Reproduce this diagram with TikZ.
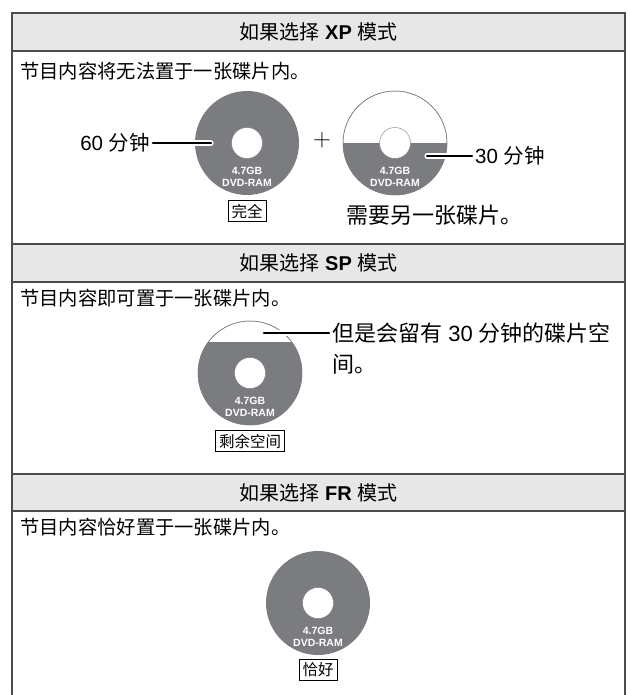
\documentclass[tikz,border=0pt]{standalone}
\usepackage{fontspec}
\setmainfont{Liberation Sans}
\newfontfamily\cjk{Noto Sans CJK SC}
\usetikzlibrary{positioning}
\definecolor{headgray}{RGB}{230,231,230}
\definecolor{discgray}{RGB}{122,124,128}
\definecolor{framegray}{RGB}{75,75,75}
\tikzset{
  frameline/.style={draw=framegray,line width=1.8pt},
  headtext/.style={font=\fontsize{20}{22}\selectfont},
  intro/.style={anchor=west,inner sep=0pt,font=\cjk\fontsize{19.3}{22}\selectfont},
  disc/.style={circle,fill=discgray,minimum size=104pt,inner sep=0pt},
  discring/.style={circle,draw=discgray,line width=0.5pt,minimum size=104pt,inner sep=0pt},
  hole/.style={circle,fill=white,draw=discgray,line width=0.4pt,minimum size=31pt,inner sep=0pt},
  disclabel/.style={text=white,align=center,inner sep=0pt,font=\bfseries\fontsize{10.5}{12.2}\selectfont},
  tag/.style={draw=black,line width=0.8pt,inner xsep=3.5pt,inner ysep=2pt,minimum height=21pt,font=\cjk\fontsize{15.5}{17}\selectfont},
  callout/.style={inner sep=3pt,font=\fontsize{20.5}{24}\selectfont},
  bigcallout/.style={inner sep=3pt,font=\fontsize{22}{26}\selectfont},
  pointer/.style={line width=2.6pt,line cap=round,preaction={draw=white,line width=5.2pt,line cap=round}}
}
\begin{document}
\begin{tikzpicture}[x=1pt,y=-1pt]
\useasboundingbox (0,0) rectangle (629,695);
% header bands
\fill[headgray] (12,13) rectangle (625,51);
\fill[headgray] (12,244) rectangle (625,282);
\fill[headgray] (12,474) rectangle (625,511);
\draw[frameline] (12,695) -- (12,13) -- (625,13) -- (625,695);
\foreach \y in {51,244,282,474,511}
  \draw[frameline] (12,\y) -- (625,\y);
\node[headtext] (hxp) at (318.5,32) {{\cjk 如果选择} \textbf{XP} {\cjk 模式}};
\node[headtext] (hsp) at (318.5,263) {{\cjk 如果选择} \textbf{SP} {\cjk 模式}};
\node[headtext] (hfr) at (318.5,492.5) {{\cjk 如果选择} \textbf{FR} {\cjk 模式}};

% XP mode
\node[intro] (txp) at (20,71) {节目内容将无法置于一张碟片内。};
\node[disc] (d1) at (247,143) {};
\node[hole] (h1) at (d1) {};
\node[disclabel] (l1) at ([yshift=-34pt]d1.center) {4.7GB\\DVD-RAM};
\node[tag,below=5pt of d1] (full) {完全};
\coordinate (e60) at (211,143);
\node[callout,anchor=east] (t60) at (153,143) {60 {\cjk 分钟}};
\draw[pointer] (t60.east) -- (e60);
\node[font=\fontsize{26}{26}\selectfont] (plus) at (322,140) {$+$};
\node[discring] (d2) at (395,143) {};
\begin{scope}
  \clip (d2) circle[radius=52pt];
  \fill[discgray] (340,143) rectangle (450,200);
\end{scope}
\node[discring] at (d2) {};
\node[hole] (h2) at (d2) {};
\node[disclabel] (l2) at ([yshift=-34pt]d2.center) {4.7GB\\DVD-RAM};
\coordinate (e30) at (427,156);
\node[callout,anchor=west] (t30) at (472,156) {30 {\cjk 分钟}};
\draw[pointer] (e30) -- (t30.west);
\node[bigcallout,anchor=west] (more) at (343,215) {\cjk 需要另一张碟片。};

% SP mode
\node[intro] (tsp) at (20,298) {节目内容即可置于一张碟片内。};
\node[discring] (d3) at (250,373) {};
\begin{scope}
  \clip (d3) circle[radius=52pt];
  \fill[discgray] (190,342) rectangle (310,430);
\end{scope}
\node[discring] at (d3) {};
\node[hole] (h3) at (d3) {};
\node[disclabel] (l3) at ([yshift=-34pt]d3.center) {4.7GB\\DVD-RAM};
\node[tag,below=5pt of d3] (spare) {剩余空间};
\coordinate (e35) at (264,333);
\node[bigcallout,anchor=west] (t35) at (329,333) {{\cjk 但是会留有} 30 {\cjk 分钟的碟片空}};
\node[bigcallout,anchor=west] (t35b) at (329,364) {\cjk 间。};
\draw[pointer] (e35) -- (t35.west);

% FR mode
\node[intro] (tfr) at (20,527) {节目内容恰好置于一张碟片内。};
\node[disc] (d4) at (318,603) {};
\node[hole] (h4) at (d4) {};
\node[disclabel] (l4) at ([yshift=-34pt]d4.center) {4.7GB\\DVD-RAM};
\node[tag,below=4pt of d4] (exact) {恰好};
\end{tikzpicture}
\end{document}
